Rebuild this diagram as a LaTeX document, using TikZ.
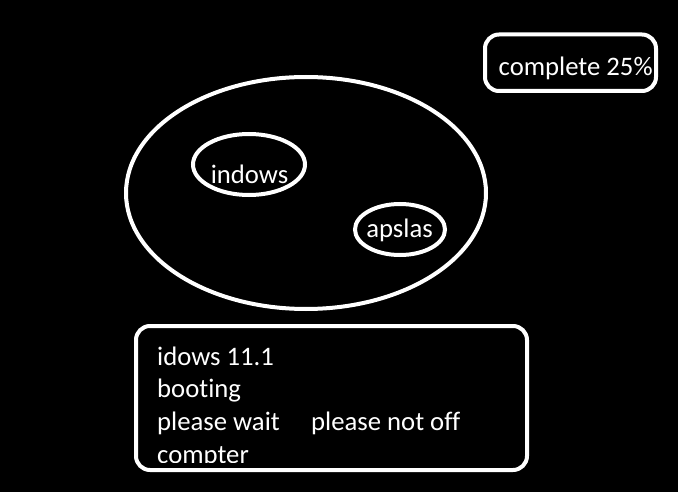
\documentclass[tikz,border=0pt]{standalone}
\usepackage{fontspec}
\setmainfont{Carlito}[Ligatures=NoCommon]
\usetikzlibrary{shapes.geometric}
\begin{document}
\begin{tikzpicture}[x=1pt,y=-1pt,
    ring/.style={ellipse,draw=white,line width=4pt,inner sep=0pt},
    panel/.style={rectangle,draw=white,line width=4pt,rounded corners=14pt,inner sep=0pt},
    txt/.style={text=white,inner sep=0pt,font=\fontsize{26.7pt}{32.5pt}\selectfont}]
        \fill[black] (0,0) rectangle (678,492);
        \useasboundingbox (0,0) rectangle (678,492);
        \node[panel,minimum width=171pt,minimum height=56.5pt] (prog) at (570.5,62.75) {};
        \node[txt,anchor=base west] (progtxt) at (498.5,76) {complete 25\%};
        \node[ring,minimum width=360pt,minimum height=232pt] (disk) at (306,193) {};
        \node[ring,minimum width=112pt,minimum height=61pt] (win) at (249,164.5) {};
        \node[ring,minimum width=90pt,minimum height=51pt] (aps) at (400,229.5) {};
        \node[txt,anchor=base] (wintxt) at (249.5,184) {indows};
        \node[txt,anchor=base] (apstxt) at (399.5,237) {apslas};
        \node[panel,minimum width=391pt,minimum height=144pt] (boot) at (331.5,398) {};
        \begin{scope}
            \clip (136,326) rectangle (527,462);
            \node[txt,anchor=base west] (l1) at (157,365) {idows 11.1};
            \node[txt,anchor=base west] (l2) at (157,397) {booting};
            \node[txt,anchor=base west] (l3) at (157,430) {\makebox[154pt][l]{please wait}please not off};
            \node[txt,anchor=base west] (l4) at (157,463) {compter};
        \end{scope}
    \end{tikzpicture}
\end{document}
